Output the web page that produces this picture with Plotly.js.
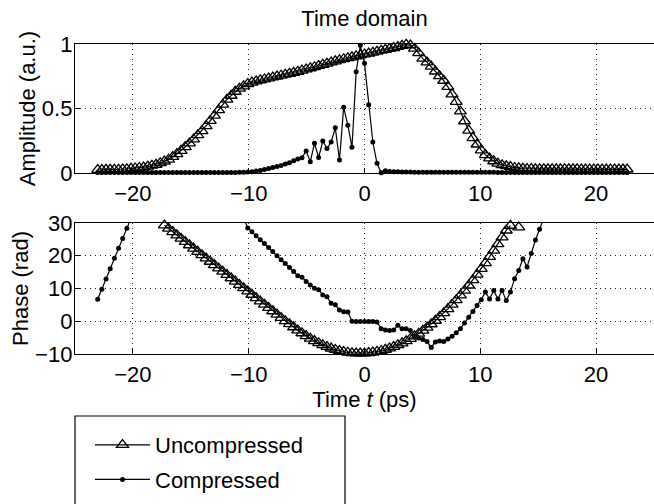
<!DOCTYPE html>
<html>
<head>
<meta charset="utf-8">
<script src="https://cdn.plot.ly/plotly-3.0.1.min.js"></script>
<style>html,body{margin:0;padding:0;background:#fff;}#chart{width:654px;height:504px;}</style>
</head>
<body>
<div id="chart"></div>
<script>
// Sample times (ps)
const t = [-23.04,-22.68,-22.32,-21.96,-21.6,-21.24,-20.88,-20.52,-20.16,-19.8,-19.44,-19.08,-18.72,-18.36,-18,-17.64,
-17.28,-16.92,-16.56,-16.2,-15.84,-15.48,-15.12,-14.76,-14.4,-14.04,-13.68,-13.32,-12.96,-12.6,-12.24,-11.88,
-11.52,-11.16,-10.8,-10.44,-10.08,-9.72,-9.36,-9,-8.64,-8.28,-7.92,-7.56,-7.2,-6.84,-6.48,-6.12,
-5.76,-5.4,-5.04,-4.68,-4.32,-3.96,-3.6,-3.24,-2.88,-2.52,-2.16,-1.8,-1.44,-1.08,-0.72,-0.36,
0,0.36,0.72,1.08,1.44,1.8,2.16,2.52,2.88,3.24,3.6,3.96,4.32,4.68,5.04,5.4,
5.76,6.12,6.48,6.84,7.2,7.56,7.92,8.28,8.64,9,9.36,9.72,10.08,10.44,10.8,11.16,
11.52,11.88,12.24,12.6,12.96,13.32,13.68,14.04,14.4,14.76,15.12,15.48,15.84,16.2,16.56,16.92,
17.28,17.64,18,18.36,18.72,19.08,19.44,19.8,20.16,20.52,20.88,21.24,21.6,21.96,22.32,22.68];

// Amplitude (a.u.)
const ampUncompressed = [0.025,0.025,0.026,0.026,0.027,0.027,0.029,0.031,0.034,0.037,0.041,0.044,0.05,0.058,0.065,0.077,
0.09,0.105,0.126,0.148,0.173,0.202,0.23,0.262,0.294,0.326,0.365,0.405,0.445,0.488,0.531,0.57,
0.6,0.631,0.655,0.673,0.691,0.702,0.711,0.72,0.727,0.734,0.742,0.749,0.756,0.763,0.77,0.778,
0.786,0.795,0.804,0.813,0.822,0.831,0.84,0.849,0.858,0.867,0.876,0.884,0.891,0.898,0.906,0.913,
0.92,0.927,0.934,0.942,0.949,0.956,0.963,0.97,0.978,0.987,0.995,0.99,0.965,0.93,0.887,0.858,
0.826,0.788,0.752,0.716,0.668,0.61,0.553,0.478,0.402,0.33,0.272,0.222,0.177,0.14,0.114,0.092,
0.074,0.062,0.054,0.048,0.041,0.038,0.035,0.033,0.032,0.031,0.03,0.03,0.03,0.03,0.03,0.03,
0.03,0.03,0.03,0.03,0.029,0.029,0.029,0.029,0.029,0.028,0.028,0.028,0.028,0.028,0.028,0.028];

const ampCompressed = [0.004,0.004,0.004,0.004,0.004,0.004,0.004,0.004,0.004,0.004,0.004,0.004,0.004,0.004,0.004,0.004,
0.004,0.004,0.004,0.004,0.004,0.004,0.004,0.004,0.004,0.004,0.004,0.004,0.004,0.004,0.004,0.004,
0.004,0.004,0.005,0.005,0.007,0.01,0.015,0.02,0.027,0.034,0.042,0.05,0.058,0.07,0.08,0.095,
0.108,0.119,0.17,0.088,0.23,0.12,0.248,0.19,0.24,0.35,0.1,0.51,0.37,0.2,0.785,0.99,
0.85,0.53,0.24,0.075,0.002,0.018,0.012,0.01,0.009,0.008,0.007,0.007,0.006,0.006,0.005,0.005,
0.005,0.005,0.005,0.005,0.005,0.005,0.005,0.005,0.005,0.005,0.005,0.005,0.005,0.005,0.005,0.005,
0.004,0.004,0.004,0.004,0.004,0.004,0.004,0.004,0.004,0.004,0.004,0.004,0.004,0.004,0.004,0.004,
0.004,0.004,0.004,0.004,0.004,0.004,0.004,0.004,0.004,0.004,0.004,0.004,0.004,0.004,0.004,0.004];

// Phase (rad); null where the curve is not shown
const phaseUncompressed = [null,null,null,null,null,null,null,null,null,null,null,null,null,null,null,null,
29.3,28.29,27.28,26.28,25.27,24.26,23.25,22.24,21.24,20.23,19.22,18.21,17.2,16.2,15.19,14.18,
13.17,12.16,11.16,10.15,9.14,8.13,7.12,6.12,5.11,4.1,3.09,2.08,1.08,0.07,-0.85,-1.8,
-2.75,-3.62,-4.48,-5.28,-6,-6.67,-7.27,-7.81,-8.28,-8.69,-9.03,-9.32,-9.53,-9.69,-9.77,-9.8,
-9.76,-9.66,-9.51,-9.29,-9,-8.66,-8.26,-7.8,-7.27,-6.69,-6.04,-5.33,-4.56,-3.73,-2.85,-1.89,
-0.88,0.19,1.32,2.52,3.77,5.09,6.47,7.91,9.4,10.96,12.59,14.27,16.01,17.81,19.68,21.6,
23.59,25.64,27.75,29.2,null,28.7,null,null,null,null,null,null,null,null,null,null,
null,null,null,null,null,null,null,null,null,null,null,null,null,null,null,null];

const phaseCompressed = [6.7,9.8,12.9,16,19.2,22.3,25.3,28.4,31.5,null,null,null,null,null,null,null,
null,null,null,null,null,null,null,null,null,null,null,null,null,null,null,null,
null,null,null,31.5,28.5,27.3,26.1,24.9,23.7,22.5,21.3,20,18.8,17.6,16.4,15.2,
13.9,13.4,12.1,11.1,10.1,9.6,8,7.5,5.5,5,3.4,2.9,2.8,0,-0.1,-0.1,
-0.1,-0.1,-0.1,-0.2,-2.3,-2.7,-2.8,-2.7,-1.2,-2.3,-2.3,-2.8,-4.6,-5.1,-5.6,-6.2,
-8,-6.3,-6,-6.2,-5.4,-4.6,-3.5,-2.3,-0.5,1.2,3,4.8,6.6,8.9,6.8,9.4,
6.8,9.4,6.3,8.9,13,15.5,19.1,16.6,20.7,24.8,28.1,31.5,null,null,null,null,
null,null,null,null,null,null,null,null,null,null,null,null,null,null,null,null];

const xTicks = [-20,-10,0,10,20];
const ampTicks = [0,0.5,1];
const phaseTicks = [-10,0,10,20,30];
const seriesNames = ['Uncompressed','Compressed'];

const black = '#000';
const font = 'Liberation Sans, Arial, Helvetica, sans-serif';
const fs = 22;

const triMarker = {symbol:'triangle-up-open', size:10.5, color:black, line:{width:1.3, color:black}};
const dotMarker = {symbol:'circle', size:5, color:black, line:{width:0}};

const traces = [
  {x:t, y:ampUncompressed, xaxis:'x', yaxis:'y', mode:'lines+markers', name:seriesNames[0],
   line:{color:black, width:1.2}, marker:triMarker, cliponaxis:false, legendgroup:'a'},
  {x:t, y:ampCompressed, xaxis:'x', yaxis:'y', mode:'lines+markers', name:seriesNames[1],
   line:{color:black, width:1.2}, marker:dotMarker, cliponaxis:false, legendgroup:'b'},
  {x:t, y:phaseUncompressed, xaxis:'x2', yaxis:'y2', mode:'lines+markers', name:seriesNames[0],
   line:{color:black, width:1.2}, marker:triMarker, cliponaxis:false, showlegend:false, connectgaps:false},
  {x:t, y:phaseCompressed, xaxis:'x2', yaxis:'y2', mode:'lines+markers', name:seriesNames[1],
   line:{color:black, width:1.2}, marker:dotMarker, cliponaxis:true, showlegend:false, connectgaps:false}
];

const axisCommon = {
  showline:true, mirror:true, linecolor:black, linewidth:1.2,
  ticks:'inside', ticklen:5, tickcolor:black, tickwidth:1,
  showgrid:true, gridcolor:'#222', gridwidth:1, griddash:'1px,4px',
  zeroline:false, tickfont:{family:font, size:fs, color:black}
};

const layout = {
  width:654, height:504,
  margin:{l:75, r:0, t:44, b:150},
  paper_bgcolor:'#fff', plot_bgcolor:'#fff',
  font:{family:font, size:fs, color:black},
  showlegend:true,
  title:{text:'Time domain', x:0.5, xref:'paper', xanchor:'center', y:1-18/504, yref:'container', yanchor:'middle',
         font:{family:font, size:fs, color:black}},
  xaxis:Object.assign({}, axisCommon, {domain:[0,1], anchor:'y', range:[-25,25], tickvals:xTicks}),
  yaxis:Object.assign({}, axisCommon, {domain:[0.5839,1], anchor:'x', range:[0,1], tickvals:ampTicks,
         ticklabelstandoff:-3,
         title:{text:'Amplitude (a.u.)', standoff:0, font:{family:font, size:fs, color:black}}}),
  xaxis2:Object.assign({}, axisCommon, {domain:[0,1], anchor:'y2', range:[-25,25], tickvals:xTicks,
         title:{text:'Time <i>t</i> (ps)', standoff:0, font:{family:font, size:fs, color:black}}}),
  yaxis2:Object.assign({}, axisCommon, {domain:[0,0.4226], anchor:'x2', range:[-10,30], tickvals:phaseTicks,
         ticklabelstandoff:-3,
         title:{text:'Phase (rad)', standoff:0, font:{family:font, size:fs, color:black}}}),
  legend:{x:15/579, xref:'paper', xanchor:'left', y:1-424/504, yref:'container', yanchor:'top',
          bgcolor:'rgba(0,0,0,0)', borderwidth:0, itemwidth:55, traceorder:'grouped', tracegroupgap:3,
          font:{family:font, size:fs, color:black}},
  shapes:[{type:'rect', xref:'paper', yref:'paper', x0:0, x1:270/579, y0:-62/310, y1:-180/310,
           line:{color:black, width:1.2}, fillcolor:'rgba(0,0,0,0)', layer:'above'}],
  hovermode:false
};

Plotly.newPlot('chart', traces, layout, {displayModeBar:false, staticPlot:true});
</script>
</body>
</html>
